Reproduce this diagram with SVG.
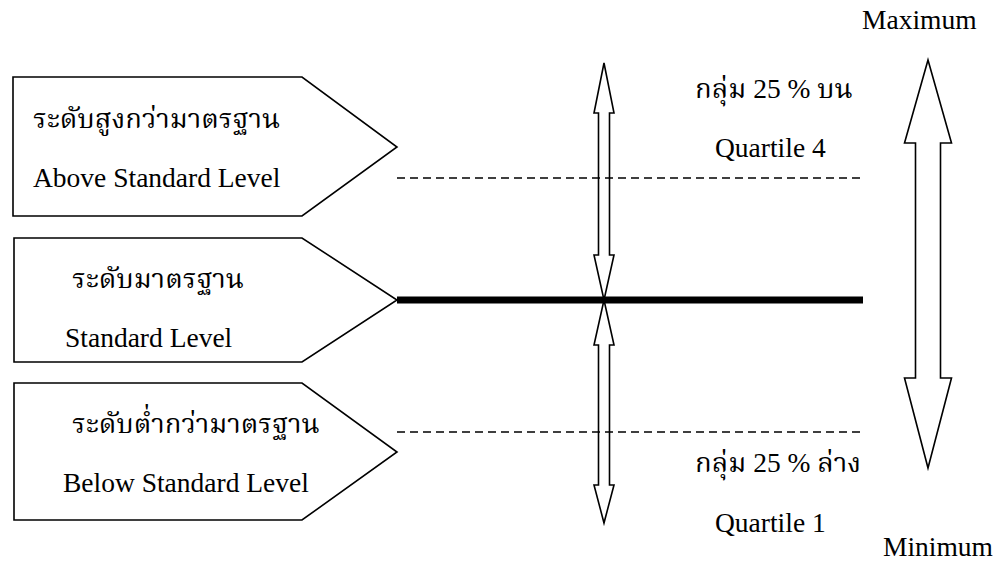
<svg xmlns="http://www.w3.org/2000/svg" width="1006" height="563" viewBox="0 0 1006 563">
<style>
.box{fill:#fff;stroke:#000;stroke-width:1.6}
.arr{fill:#fff;stroke:#000;stroke-width:1.6;stroke-linejoin:miter}
.dash{stroke:#000;stroke-width:1.6;stroke-dasharray:8 5;fill:none}
.thick{stroke:#000;stroke-width:7;fill:none}
.en{font-size:27.5px;fill:#000}
.th{font-size:27.5px;fill:#000}
</style>
<rect width="1006" height="563" fill="#fff"/>
<g id="connectors">
<polygon class="arr" points="604,63 614,113 609.5,113 609.5,255 614,255 604,300 594,255 598.5,255 598.5,113 594,113"/>
<polygon class="arr" points="604,300 614,345 609.5,345 609.5,485 614,485 604,523 594,485 598.5,485 598.5,345 594,345"/>
<line class="dash" x1="397" y1="178" x2="863" y2="178"/>
<line class="dash" x1="397" y1="432" x2="863" y2="432"/>
<line class="thick" x1="397" y1="300" x2="863" y2="300"/>
<polygon id="range-arrow" class="arr" points="928,60 951.5,143 940.5,143 940.5,378 951.5,378 928,468 904.5,378 915.5,378 915.5,143 904.5,143"/>
</g>
<g font-family="&quot;Liberation Serif&quot;, &quot;Noto Serif Thai&quot;, &quot;Noto Sans Thai&quot;, serif">
<g id="above">
<path class="box" d="M13,77 H302 L397,147 L302,216 H13 Z"/>
<text class="th" x="33" y="128">ระดับสูงกว่ามาตรฐาน</text>
<text class="en" x="33" y="187">Above Standard Level</text>
</g>
<g id="standard">
<path class="box" d="M14,238 H302 L397,300 L302,362 H14 Z"/>
<text class="th" x="72" y="288">ระดับมาตรฐาน</text>
<text class="en" x="65" y="347">Standard Level</text>
</g>
<g id="below">
<path class="box" d="M14,383 H302 L397,452 L302,520 H14 Z"/>
<text class="th" x="72" y="433">ระดับต่ำกว่ามาตรฐาน</text>
<text class="en" x="63" y="492">Below Standard Level</text>
</g>
<g id="q4">
<text class="th" x="695" y="98">กลุ่ม 25 % บน</text>
<text class="en" x="715" y="157">Quartile 4</text>
</g>
<g id="q1">
<text class="th" x="695" y="472">กลุ่ม 25 % ล่าง</text>
<text class="en" x="715" y="532">Quartile 1</text>
</g>
<g id="max"><text class="en" x="862" y="29">Maximum</text></g>
<g id="min"><text class="en" x="883" y="556">Minimum</text></g>
</g>
</svg>
